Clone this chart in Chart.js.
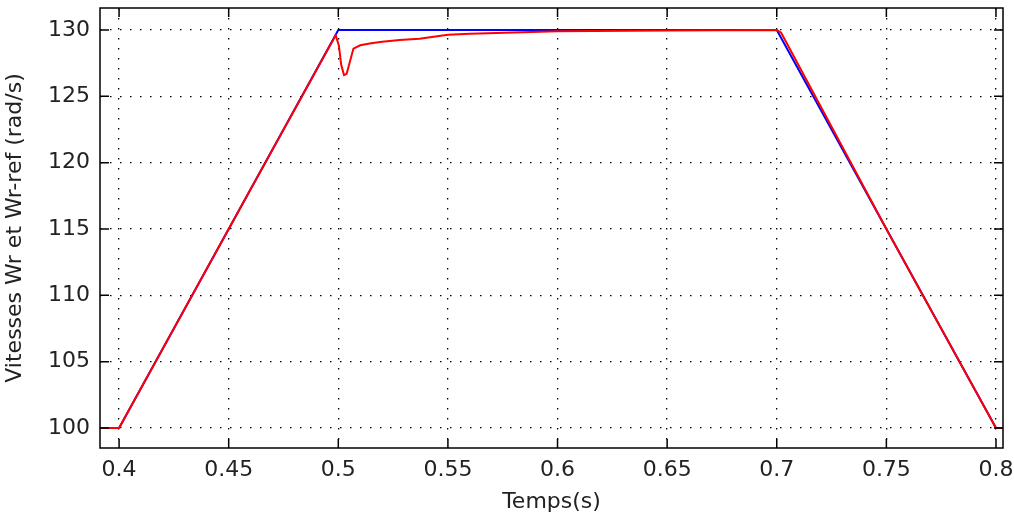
<!DOCTYPE html>
<html>
<head>
<meta charset="utf-8">
<script src="https://cdn.jsdelivr.net/npm/chart.js@4"></script>
<style>
  html, body { margin: 0; padding: 0; background: #fff; }
  #wrap { width: 1014px; height: 520px; }
</style>
</head>
<body>
<div id="wrap"><canvas id="speedChart" width="1014" height="520"></canvas></div>
<script>
// reference speed Wr-ref (blue)
const tRef = [0.39, 0.4, 0.5, 0.7, 0.8, 0.81];
const wRef = [100, 100, 130, 130, 100, 100];

// measured speed Wr (red)
const tMes = [0.39, 0.4, 0.45, 0.4988, 0.5003, 0.5013, 0.5026, 0.5038, 0.5048, 0.5069,
  0.51, 0.515, 0.52, 0.528, 0.537, 0.55, 0.56, 0.58, 0.6, 0.65, 0.7, 0.702, 0.75, 0.8, 0.81];
const wMes = [100, 100, 115, 129.6, 128.8, 127.4, 126.6, 126.7, 127.3, 128.6,
  128.85, 129.0, 129.12, 129.25, 129.35, 129.65, 129.72, 129.82, 129.9, 129.96, 130, 129.8, 115, 100, 100];

const xTicks = [0.4, 0.45, 0.5, 0.55, 0.6, 0.65, 0.7, 0.75, 0.8];
const yTicks = [100, 105, 110, 115, 120, 125, 130];

const toPoints = (xs, ys) => xs.map((x, i) => ({ x: x, y: ys[i] }));

Chart.defaults.font.family = "'DejaVu Sans', sans-serif";
Chart.defaults.color = '#222';

// matlab style frame with inward ticks
const framePlugin = {
  id: 'frame',
  afterDatasetsDraw(chart) {
    const { ctx, chartArea: a, scales } = chart;
    const len = 9;
    ctx.save();
    ctx.strokeStyle = '#000';
    ctx.lineWidth = 1.5;
    ctx.strokeRect(a.left, a.top, a.right - a.left, a.bottom - a.top);
    ctx.beginPath();
    for (const v of xTicks) {
      const px = scales.x.getPixelForValue(v);
      ctx.moveTo(px, a.bottom); ctx.lineTo(px, a.bottom - len);
      ctx.moveTo(px, a.top); ctx.lineTo(px, a.top + len);
    }
    for (const v of yTicks) {
      const py = scales.y.getPixelForValue(v);
      ctx.moveTo(a.left, py); ctx.lineTo(a.left + len, py);
      ctx.moveTo(a.right, py); ctx.lineTo(a.right - len, py);
    }
    ctx.stroke();
    ctx.restore();
  }
};

new Chart(document.getElementById('speedChart'), {
  type: 'line',
  data: {
    datasets: [
      {
        label: 'Wr',
        data: toPoints(tMes, wMes),
        borderColor: '#ff0000',
        borderWidth: 2,
        pointRadius: 0,
        order: 0
      },
      {
        label: 'Wr-ref',
        data: toPoints(tRef, wRef),
        borderColor: '#0000ff',
        borderWidth: 2,
        pointRadius: 0,
        order: 1
      }
    ]
  },
  options: {
    responsive: false,
    animation: false,
    layout: { padding: { top: 8, right: 11, bottom: 0, left: 0 } },
    plugins: { legend: { display: false }, tooltip: { enabled: false } },
    elements: { line: { tension: 0 } },
    scales: {
      x: {
        type: 'linear',
        min: 0.3913,
        max: 0.8032,
        afterBuildTicks: s => { s.ticks = xTicks.map(v => ({ value: v })); },
        afterFit: s => { s.height = 72; s.paddingLeft = 0; s.paddingRight = 0; },
        ticks: {
          autoSkip: false,
          maxRotation: 0,
          padding: 9,
          font: { size: 22 },
          callback: v => String(v)
        },
        grid: { color: '#000', lineWidth: 1.3, drawTicks: false },
        border: { display: false, dash: [1.5, 8.5] },
        title: {
          display: true,
          text: 'Temps(s)',
          font: { size: 22 },
          padding: { top: 0, bottom: 5 }
        }
      },
      y: {
        min: 98.49,
        max: 131.66,
        afterBuildTicks: s => { s.ticks = yTicks.map(v => ({ value: v })); },
        afterFit: s => { s.width = 100; s.paddingTop = 0; s.paddingBottom = 0; },
        ticks: { padding: 10, font: { size: 22 } },
        grid: { color: '#000', lineWidth: 1.3, drawTicks: false },
        border: { display: false, dash: [1.5, 8.5] },
        title: {
          display: true,
          text: 'Vitesses Wr et Wr-ref (rad/s)',
          font: { size: 22 },
          padding: { top: 2, bottom: 0 }
        }
      }
    }
  },
  plugins: [framePlugin]
});
</script>
</body>
</html>
